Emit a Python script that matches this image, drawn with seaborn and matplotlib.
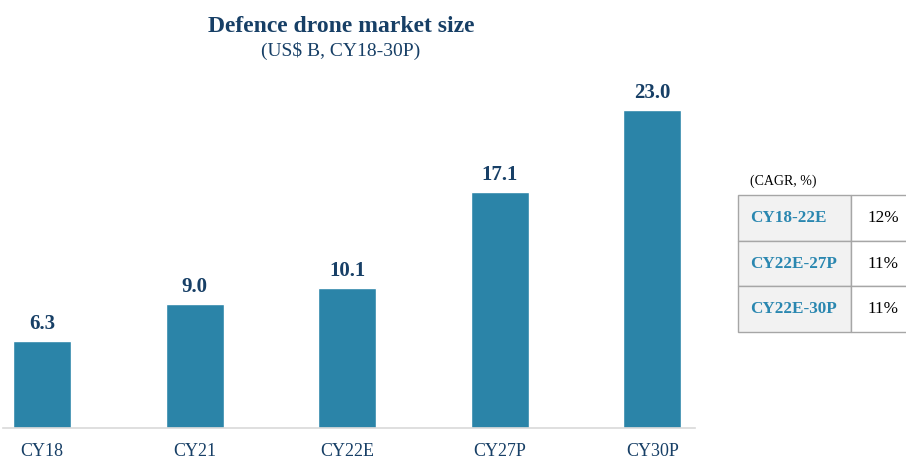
import matplotlib.pyplot as plt
import pandas as pd
import seaborn as sns
from matplotlib.patches import Rectangle

years = ["CY18", "CY21", "CY22E", "CY27P", "CY30P"]
market_size = [6.3, 9.0, 10.1, 17.1, 23.0]

cagr_periods = ["CY18-22E", "CY22E-27P", "CY22E-30P"]
cagr_values = ["12%", "11%", "11%"]

NAVY = "#173f66"
BAR = "#2b84a8"
TEAL = "#2a87b0"

sns.set_theme(style="white")
plt.rcParams["font.family"] = ["Liberation Serif", "DejaVu Serif"]

W, H = 906, 459
fig = plt.figure(figsize=(W / 100, H / 100), dpi=100)


def fx(px):
    return px / W


def fy(py):
    return 1 - py / H


# bar axes, placed in pixel terms
ax = fig.add_axes([fx(3), fy(428), fx(692), (428 - 90) / H])
df = pd.DataFrame({"year": years, "size": market_size})
sns.barplot(data=df, x="year", y="size", color=BAR, width=0.38,
            saturation=1, ax=ax)
ax.set_xlim(-0.256, 4.28)
ax.set_ylim(0, 24.44)
ax.set_xlabel("")
ax.set_ylabel("")
ax.set_yticks([])
for s in ["top", "right", "left"]:
    ax.spines[s].set_visible(False)
ax.spines["bottom"].set_color("#d9d9d9")
ax.spines["bottom"].set_linewidth(1.2)
ax.tick_params(axis="x", length=0, pad=11, labelsize=13, labelcolor=NAVY)

for i, v in enumerate(market_size):
    ax.text(i, v + 0.5, f"{v:.1f}", ha="center", va="bottom",
            fontsize=15, fontweight="bold", color=NAVY)

# titles
fig.text(fx(341), fy(26), "Defence drone market size", ha="center", va="center",
         fontsize=17, fontweight="bold", color=NAVY)
fig.text(fx(341), fy(51), "(US$ B, CY18-30P)", ha="center", va="center",
         fontsize=14, color=NAVY)

# CAGR table
fig.text(fx(750), fy(181), "(CAGR, %)", ha="left", va="center",
         fontsize=10, color="black")
top, row_h = 195, 45.7
x0, x1, x2 = 738, 851, 930
for r, (period, val) in enumerate(zip(cagr_periods, cagr_values)):
    y_top = top + r * row_h
    fig.patches.append(Rectangle((fx(x0), fy(y_top + row_h)), fx(x1 - x0), row_h / H,
                                 transform=fig.transFigure, facecolor="#f2f2f2",
                                 edgecolor="#a6a6a6", linewidth=1))
    fig.patches.append(Rectangle((fx(x1), fy(y_top + row_h)), fx(x2 - x1), row_h / H,
                                 transform=fig.transFigure, facecolor="white",
                                 edgecolor="#a6a6a6", linewidth=1))
    yc = fy(y_top + row_h / 2)
    fig.text(fx(750), yc, period, ha="left", va="center", fontsize=12.3,
             fontweight="bold", color=TEAL)
    fig.text(fx(883), yc, val, ha="center", va="center", fontsize=12.3,
             color="black")

fig.savefig("out.png", dpi=100)
